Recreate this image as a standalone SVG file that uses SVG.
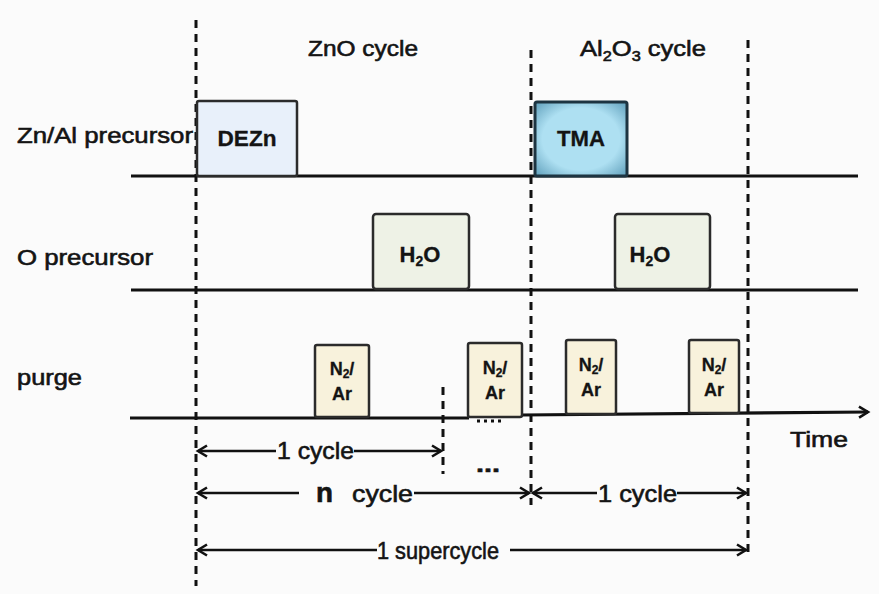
<svg xmlns="http://www.w3.org/2000/svg" width="879" height="594" viewBox="0 0 879 594">
<defs>
<marker id="ah" markerUnits="userSpaceOnUse" markerWidth="16" markerHeight="16" refX="12" refY="8" orient="auto-start-reverse" viewBox="0 0 16 16">
<polyline points="3,2.5 12,8 3,13.5" fill="none" stroke="#111" stroke-width="2.6" stroke-linejoin="miter"/>
</marker>
<radialGradient id="tmaG" cx="0.5" cy="0.5" r="0.7">
<stop offset="0.6" stop-color="#aee0f2"/>
<stop offset="1" stop-color="#5f9fbb"/>
</radialGradient>
<style>
text{font-family:"Liberation Sans",Arial,sans-serif;fill:#141414;stroke:#141414;stroke-width:0.6}
.lbl{font-size:22px}
.dl{font-size:24px}
.box{font-size:22px;font-weight:bold;text-anchor:middle;stroke-width:0.3}
.pt{font-size:18px}
.axis{stroke:#111;stroke-width:3.2;fill:none}
.dash{stroke:#111;stroke-width:3;stroke-dasharray:8 6;fill:none}
.dim{stroke:#111;stroke-width:2.6;fill:none}
.pb{stroke:#2b2b2b;stroke-width:2.5}
</style>
</defs>
<rect width="879" height="594" fill="#fbfbfb"/>

<g id="headers">
<text class="lbl" x="308" y="56" font-size="23" textLength="110" lengthAdjust="spacingAndGlyphs">ZnO cycle</text>
<text class="lbl" x="580" y="56" font-size="23" textLength="126" lengthAdjust="spacingAndGlyphs">Al<tspan font-size="14" dy="5">2</tspan><tspan dy="-5">O</tspan><tspan font-size="14" dy="5">3</tspan><tspan dy="-5"> cycle</tspan></text>
</g>

<g id="row-labels">
<text class="lbl" x="17" y="143" textLength="176" lengthAdjust="spacingAndGlyphs">Zn/Al precursor</text>
<text class="lbl" x="17" y="265" textLength="136" lengthAdjust="spacingAndGlyphs">O precursor</text>
<text class="lbl" x="17" y="385" textLength="65" lengthAdjust="spacingAndGlyphs">purge</text>
<text class="lbl" x="790" y="447" textLength="58" lengthAdjust="spacingAndGlyphs">Time</text>
</g>

<g id="connectors">
<line class="axis" x1="131" y1="176" x2="858" y2="176"/>
<line class="axis" x1="131" y1="290" x2="858" y2="290"/>
<line class="axis" x1="130" y1="418" x2="469" y2="418"/>
<line class="axis" x1="522" y1="415" x2="868" y2="412" marker-end="url(#ah)"/>
<line x1="477" y1="421" x2="502" y2="421" stroke="#111" stroke-width="3" stroke-dasharray="3 4"/>
<line class="dash" x1="196" y1="20" x2="196" y2="586"/>
<line class="dash" x1="531" y1="50" x2="531" y2="505"/>
<line class="dash" x1="748" y1="40" x2="748" y2="556"/>
<line class="dash" x1="443" y1="387" x2="443" y2="474"/>
<line class="dim" x1="198" y1="451" x2="276" y2="451" marker-start="url(#ah)"/>
<line class="dim" x1="354" y1="451" x2="441" y2="451" marker-end="url(#ah)"/>
<line class="dim" x1="198" y1="493" x2="299" y2="493" marker-start="url(#ah)"/>
<line class="dim" x1="414" y1="493" x2="529" y2="493" marker-end="url(#ah)"/>
<line class="dim" x1="533" y1="493" x2="597" y2="493" marker-start="url(#ah)"/>
<line class="dim" x1="677" y1="493" x2="746" y2="493" marker-end="url(#ah)"/>
<line class="dim" x1="198" y1="550" x2="377" y2="550" marker-start="url(#ah)"/>
<line class="dim" x1="510" y1="550" x2="746" y2="550" marker-end="url(#ah)"/>
</g>

<g id="dim-labels">
<text class="dl" x="277" y="459" textLength="77" lengthAdjust="spacingAndGlyphs">1 cycle</text>
<text x="476" y="472" font-size="22" font-weight="bold" textLength="24" lengthAdjust="spacingAndGlyphs">...</text>
<text x="316" y="502" font-size="28" font-weight="bold" textLength="17" lengthAdjust="spacingAndGlyphs">n</text>
<text class="dl" x="352" y="502" textLength="61" lengthAdjust="spacingAndGlyphs">cycle</text>
<text class="dl" x="598" y="502" textLength="79" lengthAdjust="spacingAndGlyphs">1 cycle</text>
<text class="dl" x="377" y="559" textLength="122" lengthAdjust="spacingAndGlyphs">1 supercycle</text>
</g>

<g id="node-dezn">
<rect class="pb" x="197" y="101" width="100" height="75" rx="2" fill="#e8f0fa"/>
<text class="box" x="247" y="146" textLength="59" lengthAdjust="spacingAndGlyphs">DEZn</text>
</g>

<g id="node-tma">
<rect x="535" y="102" width="92" height="74" rx="2" fill="url(#tmaG)" stroke="#1d3441" stroke-width="3"/>
<text class="box" x="581" y="146" textLength="48" lengthAdjust="spacingAndGlyphs">TMA</text>
</g>

<g id="node-h2o-1">
<rect class="pb" x="373" y="214" width="96" height="75" rx="3" fill="#eef2e6"/>
<text class="box" x="420" y="262" font-size="21">H<tspan font-size="14" dy="4">2</tspan><tspan dy="-4">O</tspan></text>
</g>

<g id="node-h2o-2">
<rect class="pb" x="615" y="214" width="95" height="75" rx="3" fill="#eef2e6"/>
<text class="box" x="650" y="262" font-size="21">H<tspan font-size="14" dy="4">2</tspan><tspan dy="-4">O</tspan></text>
</g>

<g id="node-purge-1">
<rect class="pb" x="315" y="345" width="54" height="72" rx="2" fill="#f8f2dc"/>
<text class="box pt" x="342" y="375">N<tspan font-size="12" dy="3">2</tspan><tspan dy="-3">/</tspan></text>
<text class="box pt" x="342" y="400">Ar</text>
</g>

<g id="node-purge-2">
<rect class="pb" x="468" y="343" width="54" height="74" rx="2" fill="#f8f2dc"/>
<text class="box pt" x="495" y="374">N<tspan font-size="12" dy="3">2</tspan><tspan dy="-3">/</tspan></text>
<text class="box pt" x="495" y="399">Ar</text>
</g>

<g id="node-purge-3">
<rect class="pb" x="566" y="340" width="50" height="74" rx="2" fill="#f8f2dc"/>
<text class="box pt" x="591" y="371">N<tspan font-size="12" dy="3">2</tspan><tspan dy="-3">/</tspan></text>
<text class="box pt" x="591" y="396">Ar</text>
</g>

<g id="node-purge-4">
<rect class="pb" x="689" y="340" width="50" height="73" rx="2" fill="#f8f2dc"/>
<text class="box pt" x="714" y="371">N<tspan font-size="12" dy="3">2</tspan><tspan dy="-3">/</tspan></text>
<text class="box pt" x="714" y="396">Ar</text>
</g>
</svg>
